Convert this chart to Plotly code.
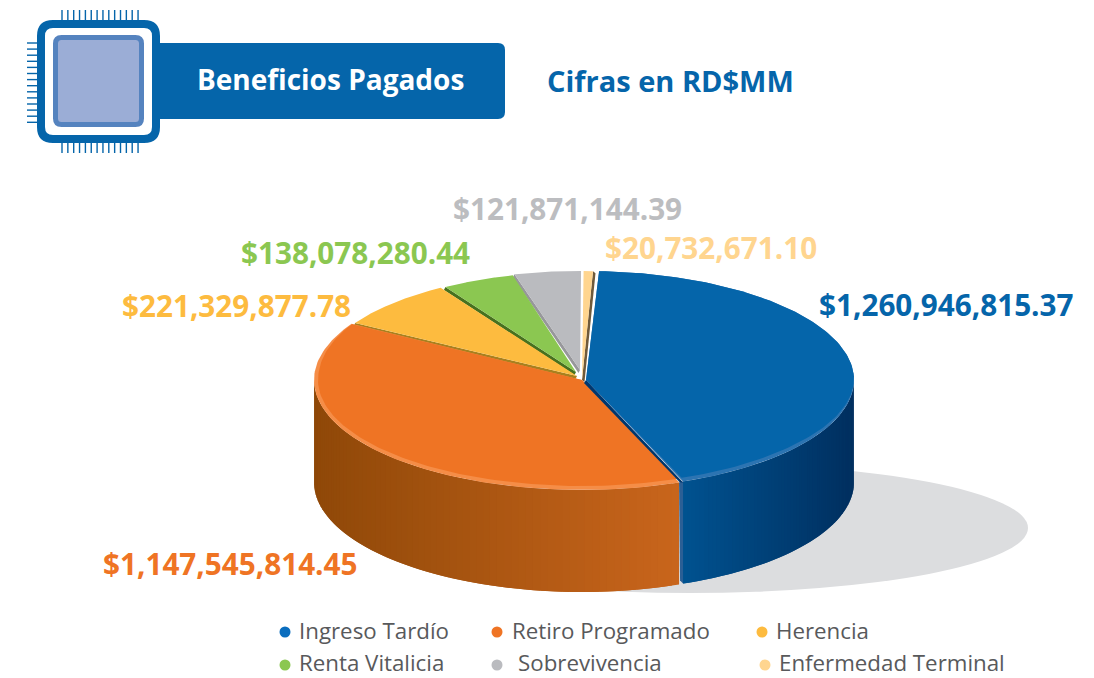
import numpy as np
import plotly.graph_objects as go

categories = ["Ingreso Tardío", "Retiro Programado", "Herencia", "Renta Vitalicia", "Sobrevivencia", "Enfermedad Terminal"]
values = [1260946815.37, 1147545814.45, 221329877.78, 138078280.44, 121871144.39, 20732671.10]
colors = ["#0565AA", "#EF7424", "#FDBB3F", "#8BC751", "#BABBBF", "#FFD58F"]
label_colors = ["#0565AA", "#EF7424", "#FDBB3F", "#8BC751", "#BCBDC0", "#FFD58F"]
edge_colors = ["#00376E", None, "#A8801F", "#47711F", "#97979B", "#6F5A3B"]

START_DEG = 2.8
centers = [(586, 380), (582, 380), (577, 376), (576, 372), (580, 370), (582, 380)]
radii = [(268, 109), (268, 110), (258, 104), (247, 100), (256, 99), (225, 109)]
DEPTH = 102
label_pos = [(946.5, 304.5), (230, 563.5), (236, 305.5), (355, 252.5), (567, 208.5), (710.5, 247.5)]
legend_dot = [(285, 632), (497, 632), (762, 632), (285, 665), (497, 665), (765, 665)]
legend_txt = [(297, 630.5), (510, 630.5), (774, 630.5), (297, 662.8), (516, 662.8), (777, 662.8)]
FONT = "Open Sans"

total = sum(values)
sweeps = [v / total * 360 for v in values]
edges = START_DEG + np.concatenate([[0], np.cumsum(sweeps)])


def rim(i, t_deg, inset=None):
    cx, cy = centers[i]
    a, b = radii[i]
    t = np.radians(t_deg)
    d = 0 if inset is None else inset
    return cx + (a - d) * np.sin(t), cy - (b - d) * np.cos(t)


def poly(x, y, color, lw=0):
    return go.Scatter(x=x, y=y, mode="lines", fill="toself", fillcolor=color,
                      line=dict(color=color, width=lw), hoverinfo="skip", showlegend=False)


def mix(c1, c2, f):
    a = [int(c1[k:k + 2], 16) for k in (1, 3, 5)]
    b = [int(c2[k:k + 2], 16) for k in (1, 3, 5)]
    return "#%02x%02x%02x" % tuple(int(round(p + (q - p) * f)) for p, q in zip(a, b))


def wedge(i, color, inset_fn=None):
    ts = np.linspace(edges[i], edges[i + 1], 120)
    x, y = rim(i, ts, None if inset_fn is None else inset_fn(ts))
    cx, cy = centers[i]
    return poly(np.r_[cx, x, cx], np.r_[cy, y, cy], color)


def wall(i, t_a, t_b, left, right, n=70):
    """Wall from t_a to t_b in draw order; the colour follows x, each strip runs under the next."""
    out = []
    xa, xb = rim(i, t_a)[0], rim(i, t_b)[0]
    lo, hi = min(xa, xb), max(xa, xb)
    ts = np.linspace(t_a, t_b, n + 1)
    for k in range(n):
        tt = np.linspace(ts[k], ts[min(k + 2, n)], 7)
        x, y = rim(i, tt)
        mid = rim(i, (ts[k] + ts[k + 1]) / 2)[0]
        c = mix(left, right, (mid - lo) / (hi - lo))
        out.append(poly(np.r_[x, x[::-1]], np.r_[y, y[::-1] + DEPTH], c))
    return out


fig = go.Figure()

# back slices with their cut faces
for i in [5, 4, 3, 2]:
    t_edge = edges[i + 1] if i == 5 else edges[i]
    ex, ey = rim(i, t_edge)
    cx, cy = centers[i]
    off = (2.5, 2) if i == 5 else (-1.5, 3)
    fig.add_trace(poly([cx, ex, ex + off[0], cx + off[0]], [cy, ey, ey + off[1], cy + off[1]], edge_colors[i]))
    fig.add_trace(wedge(i, colors[i]))

# front walls
for tr in wall(1, edges[1], 270, "#8F4808", "#C9651C"):
    fig.add_trace(tr)
for tr in wall(0, 90, edges[1], "#005290", "#002F5F"):
    fig.add_trace(tr)

# lighter strip at the blue wall's cut end
bx, by = rim(0, edges[1])
fig.add_trace(poly([bx - 4, bx, bx, bx - 3], [by + 1, by, by + DEPTH, by + DEPTH - 3], "#2B5F95"))

# top faces with a lighter front rim
fig.add_trace(wedge(1, "#F58D47"))
fig.add_trace(wedge(1, colors[1], lambda t: 4 * np.clip(2 * np.cos(np.radians(t - 215)), 0, 1)))
fig.add_trace(wedge(0, "#2C74B2"))
fig.add_trace(wedge(0, colors[0], lambda t: 4 * np.clip(1.6 * np.cos(np.radians(t - 180)), 0, 1)))

# dark cut face along the blue slice
cx, cy = centers[0]
fig.add_trace(poly([cx, bx, bx - 3, cx - 2], [cy, by + 1, by + 1, cy + 3], edge_colors[0]))

# legend markers
for i, cat in enumerate(categories):
    fig.add_trace(go.Scatter(x=[legend_dot[i][0]], y=[legend_dot[i][1]], mode="markers", name=cat,
                             marker=dict(color=colors[i] if i else "#0A6DBE", size=11),
                             hoverinfo="name", showlegend=False))

annotations = []
for i, v in enumerate(values):
    annotations.append(dict(x=label_pos[i][0], y=label_pos[i][1], text="<b>$" + format(v, ",.2f") + "</b>",
                            showarrow=False, xanchor="center", yanchor="middle",
                            font=dict(family=FONT, size=29.7, color=label_colors[i])))
    annotations.append(dict(x=legend_txt[i][0], y=legend_txt[i][1], text=categories[i], showarrow=False,
                            xanchor="left", yanchor="middle", font=dict(family=FONT, size=22.3, color="#58595B")))
annotations.append(dict(x=330, y=78.5, text="<b>Beneficios Pagados</b>", showarrow=False, xanchor="center",
                        yanchor="middle", font=dict(family=FONT, size=28, color="#FFFFFF")))
annotations.append(dict(x=670.5, y=80, text="<b>Cifras en RD$MM</b>", showarrow=False, xanchor="center",
                        yanchor="middle", font=dict(family=FONT, size=29, color="#0565AA")))


def rrect(x0, y0, x1, y1, r):
    return (f"M{x0+r},{y0} L{x1-r},{y0} Q{x1},{y0} {x1},{y0+r} L{x1},{y1-r} Q{x1},{y1} {x1-r},{y1} "
            f"L{x0+r},{y1} Q{x0},{y1} {x0},{y1-r} L{x0},{y0+r} Q{x0},{y0} {x0+r},{y0} Z")


shapes = [
    dict(type="circle", x0=352, x1=1028, y0=463, y1=593, fillcolor="#DCDDDF", line_width=0, layer="below"),
    dict(type="path", path=rrect(150, 43, 505, 119, 7), fillcolor="#0565AA", line_width=0, layer="below"),
]
for k in range(14):
    px = 62 + k * 5.85
    py = 43 + k * 6.1
    shapes.append(dict(type="line", x0=px, x1=px, y0=10, y1=22, line=dict(color="#0565AA", width=1.4), layer="below"))
    shapes.append(dict(type="line", x0=px, x1=px, y0=141, y1=153, line=dict(color="#0565AA", width=1.4), layer="below"))
    shapes.append(dict(type="line", x0=27, x1=39, y0=py, y1=py, line=dict(color="#0565AA", width=1.4), layer="below"))
shapes.append(dict(type="path", path=rrect(41, 24, 156, 139, 12), fillcolor="#FFFFFF",
                   line=dict(color="#0565AA", width=8), layer="below"))
shapes.append(dict(type="path", path=rrect(55.5, 37.5, 141.5, 124.5, 6), fillcolor="#9BADD6",
                   line=dict(color="#5583BF", width=5), layer="below"))

# the page has an 8px body margin, so the figure starts at page pixel (8, 8)
fig.update_layout(
    width=1086, height=670, margin=dict(l=0, r=0, t=0, b=0), autosize=False,
    paper_bgcolor="#FFFFFF", plot_bgcolor="#FFFFFF", showlegend=False,
    xaxis=dict(range=[8, 1094], visible=False, fixedrange=True),
    yaxis=dict(range=[678, 8], visible=False, fixedrange=True),
    annotations=annotations, shapes=shapes,
)
fig.write_html("out.html", config={"displayModeBar": False})
